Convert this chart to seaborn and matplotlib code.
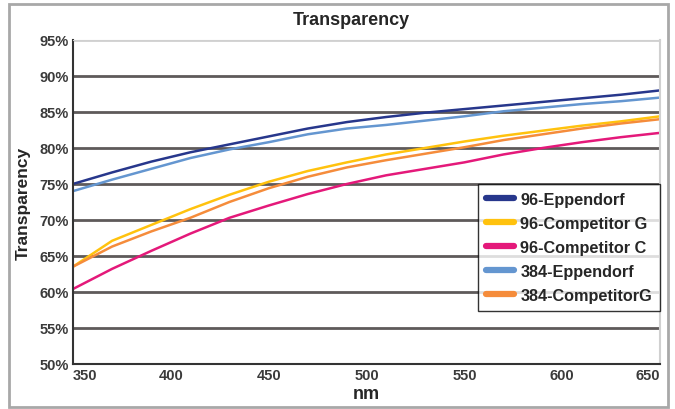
import pandas as pd
import matplotlib.pyplot as plt
import matplotlib.patches as mpatches
import seaborn as sns

# Data (transparency in %)
nm = [350, 370, 390, 410, 430, 450, 470, 490, 510, 530, 550, 570, 590, 610, 630, 650]
eppendorf_96 = [75.0, 76.6, 78.1, 79.4, 80.5, 81.6, 82.7, 83.6, 84.3, 84.9,
                85.4, 85.9, 86.4, 86.9, 87.4, 88.0]
competitor_g_96 = [63.5, 67.1, 69.3, 71.5, 73.5, 75.3, 76.8, 78.0, 79.1, 80.0,
                   80.9, 81.7, 82.4, 83.1, 83.7, 84.4]
competitor_c_96 = [60.4, 63.2, 65.7, 68.1, 70.3, 72.0, 73.6, 75.0, 76.2, 77.1,
                   78.0, 79.1, 80.0, 80.8, 81.5, 82.1]
eppendorf_384 = [74.0, 75.6, 77.1, 78.6, 79.8, 80.8, 81.9, 82.7, 83.2, 83.8,
                 84.4, 85.1, 85.6, 86.1, 86.5, 87.0]
competitor_g_384 = [63.5, 66.3, 68.4, 70.3, 72.5, 74.4, 76.0, 77.3, 78.3, 79.2,
                    80.1, 81.1, 81.9, 82.7, 83.4, 84.0]

series_names = ["96-Eppendorf", "96-Competitor G", "96-Competitor C",
                "384-Eppendorf", "384-CompetitorG"]
series_values = [eppendorf_96, competitor_g_96, competitor_c_96,
                 eppendorf_384, competitor_g_384]
colors = ["#27378c", "#ffc20e", "#e4197a", "#6496d0", "#f58c3b"]
y_ticks = [50, 55, 60, 65, 70, 75, 80, 85, 90, 95]
x_ticks = [350, 400, 450, 500, 550, 600, 650]

frames = []
for name, vals in zip(series_names, series_values):
    frames.append(pd.DataFrame({"nm": nm, "value": vals, "series": name}))
data = pd.concat(frames, ignore_index=True)

sns.set_style("white")
plt.rcParams["font.family"] = ["Liberation Sans", "DejaVu Sans"]

fig = plt.figure(figsize=(6.75, 4.10), dpi=100)
ax = fig.add_axes([0.108, 0.110, 0.870, 0.790])

sns.lineplot(data=data, x="nm", y="value", hue="series",
             palette=dict(zip(series_names, colors)), hue_order=series_names,
             linewidth=1.8, ax=ax, legend=False)

ax.set_xlim(350, 650)
ax.set_ylim(50, 95)
ax.set_yticks(y_ticks)
ax.set_yticklabels([f"{t}%" for t in y_ticks])
ax.set_xticks(x_ticks)
ax.set_xticklabels([str(t) for t in x_ticks])
ax.tick_params(length=0, pad=3, labelsize=10.5, labelcolor="#3a3a3a")
for lab in ax.get_xticklabels() + ax.get_yticklabels():
    lab.set_fontweight("bold")
ax.get_xticklabels()[0].set_ha("left")
ax.get_xticklabels()[-1].set_ha("right")

ax.yaxis.grid(True, color="#5e5a5a", linewidth=2)
ax.set_axisbelow(True)
ax.get_ygridlines()[-1].set_color("#d0d0d0")

ax.spines["left"].set_color("#333333")
ax.spines["left"].set_linewidth(1.5)
ax.spines["bottom"].set_color("#333333")
ax.spines["bottom"].set_linewidth(1.5)
ax.spines["top"].set_color("#d0d0d0")
ax.spines["right"].set_color("#d0d0d0")
ax.spines["right"].set_linewidth(1.5)

fig.text(0.521, 0.949, "Transparency", fontsize=13, fontweight="bold",
         ha="center", va="center")
ax.set_xlabel("nm", fontsize=13, fontweight="bold", labelpad=2)
ax.set_ylabel("Transparency", fontsize=12.5, fontweight="bold", labelpad=6)

handles = [plt.Line2D([], [], color=c, linewidth=4.5) for c in colors]
leg = ax.legend(handles, series_names, loc="upper left",
                bbox_to_anchor=(0.690, 0.556), frameon=True, fancybox=False,
                prop={"weight": "bold", "size": 11.7}, handlelength=1.7,
                handletextpad=0.4, labelspacing=0.55, borderpad=0.5,
                borderaxespad=0)
leg.get_frame().set_edgecolor("black")
leg.get_frame().set_linewidth(1)

# outer gray frame around the whole chart
fig.patches.append(mpatches.Rectangle((0.013, 0.006), 0.977, 0.982,
                                      transform=fig.transFigure, fill=False,
                                      edgecolor="#a8a8a8", linewidth=2))

plt.savefig("out.png", dpi=100)
